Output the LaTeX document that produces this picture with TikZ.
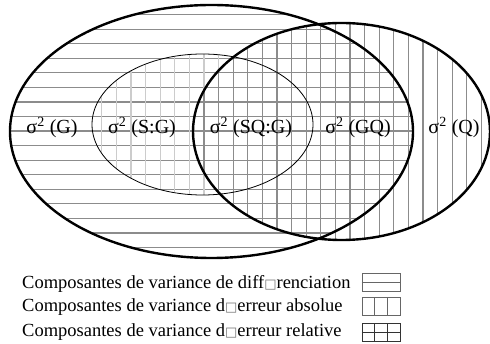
\documentclass[tikz,border=0pt]{standalone}
\usepackage{fontspec}
\setmainfont{Liberation Serif}
\newfontfamily\symfont{DejaVu Sans}
\usetikzlibrary{calc}

\newcommand{\missglyph}{{\symfont\fontsize{13}{13}\selectfont\textcolor{black!55}{□}}}

\begin{document}
\begin{tikzpicture}[x=1pt,y=-1pt,
  rim/.style={line width=2.4pt},
  innerrim/.style={line width=0.8pt},
  hatch/.style={draw=black!45,line width=1.2pt},
  lighthatch/.style={draw=black!20,line width=1.2pt},
  lab/.style={font=\fontsize{20}{20}\selectfont, inner sep=0pt, anchor=base},
  keytext/.style={font=\fontsize{18.5}{18.5}\selectfont, inner sep=0pt, anchor=base west},
  keybox/.style={draw=black!60, line width=1pt, minimum width=38pt, minimum height=18pt, inner sep=0pt},
  keyline/.style={draw=black!60, line width=1pt}]

  \useasboundingbox (0,0) rectangle (490,344);

  % horizontal hatching (big ellipse)
  \begin{scope}
    \clip (211.5,131.5) ellipse [x radius=201.5pt, y radius=126.5pt];
    \foreach \k in {0,...,16}
      \draw[hatch] (0,14.7+14.55*\k) -- (490,14.7+14.55*\k);
  \end{scope}

  % light vertical hatching (inner ellipse)
  \begin{scope}
    \clip (202.5,124.5) ellipse [x radius=110.5pt, y radius=70.5pt];
    \foreach \k in {0,...,15}
      \draw[lighthatch] (101.7+14.6*\k,0) -- (101.7+14.6*\k,344);
  \end{scope}

  % vertical hatching (right ellipse)
  \begin{scope}
    \clip (341.5,131.5) ellipse [x radius=148.5pt, y radius=108.5pt];
    \foreach \k in {6,...,27}
      \draw[hatch] (101.7+14.6*\k,0) -- (101.7+14.6*\k,344);
  \end{scope}

  \draw[rim] (211.5,131.5) ellipse [x radius=201.5pt, y radius=126.5pt];
  \draw[rim] (341.5,131.5) ellipse [x radius=148.5pt, y radius=108.5pt];
  \draw[innerrim] (202.5,124.5) ellipse [x radius=110.5pt, y radius=70.5pt];

  \node[lab] (sG) at (52,134) {σ\textsuperscript{2} (G)};
  \node[lab] (sSG) at (142,134) {σ\textsuperscript{2} (S:G)};
  \node[lab] (sSQG) at (251,134) {σ\textsuperscript{2} (SQ:G)};
  \node[lab] (sGQ) at (358,134) {σ\textsuperscript{2} (GQ)};
  \node[lab] (sQ) at (454,134) {σ\textsuperscript{2} (Q)};

  % legend
  \node[keytext] (keyDiff) at (22,289) {Composantes de variance de diff\missglyph renciation};
  \node[keytext] (keyAbs) at (22,312) {Composantes de variance d\missglyph erreur absolue};
  \node[keytext] (keyRel) at (22,337) {Composantes de variance d\missglyph erreur relative};

  \node[keybox] (boxDiff) at (381,283) {};
  \draw[keyline] (boxDiff.west) -- (boxDiff.east);

  \node[keybox] (boxAbs) at (381,307) {};
  \foreach \f in {1/3,2/3}
    \draw[keyline] ($(boxAbs.north west)!\f!(boxAbs.north east)$) -- ($(boxAbs.south west)!\f!(boxAbs.south east)$);

  \node[keybox, draw=black!80] (boxRel) at (381,333) {};
  \draw[keyline, draw=black!80] (boxRel.west) -- (boxRel.east);
  \foreach \f in {1/3,2/3}
    \draw[keyline, draw=black!80] ($(boxRel.north west)!\f!(boxRel.north east)$) -- ($(boxRel.south west)!\f!(boxRel.south east)$);
\end{tikzpicture}
\end{document}
